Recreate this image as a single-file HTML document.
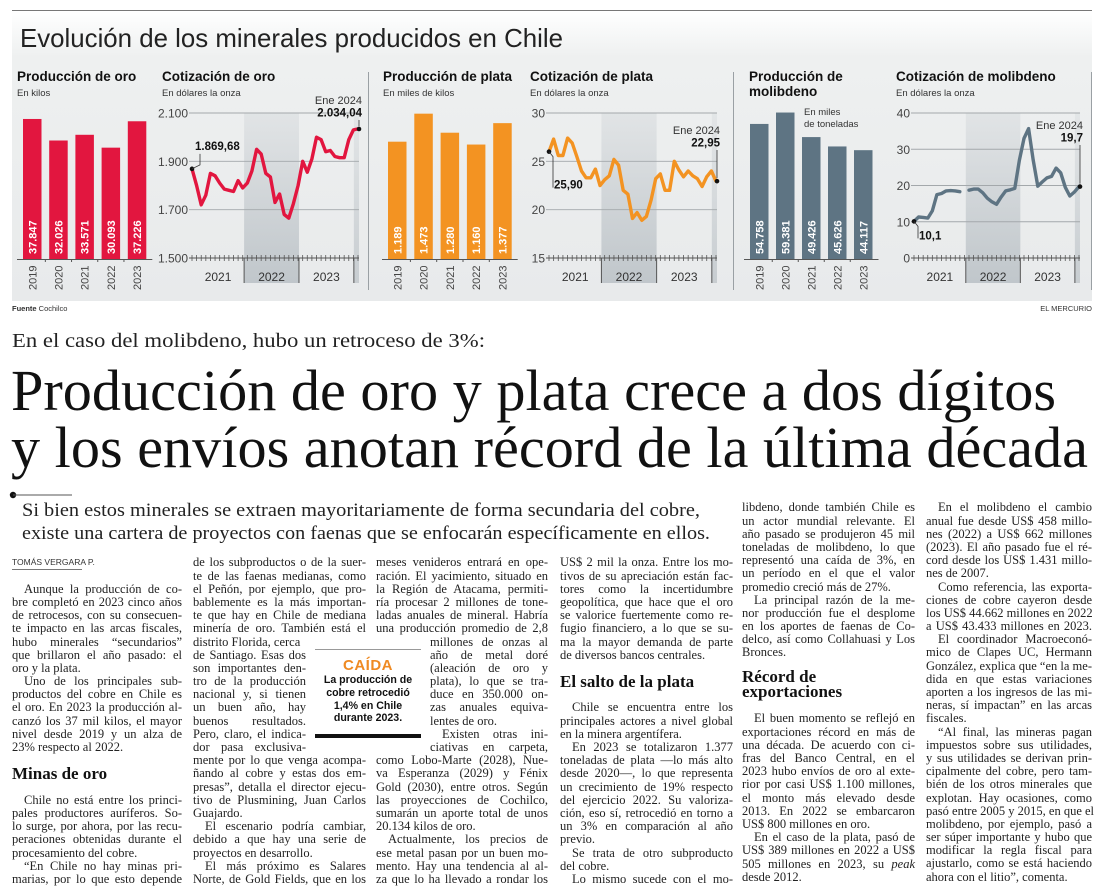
<!DOCTYPE html>
<html><head><meta charset="utf-8">
<style>
html,body{margin:0;padding:0;background:#fff;}
body{width:1100px;height:892px;position:relative;overflow:hidden;font-family:"Liberation Serif",serif;}
svg{position:absolute;left:0;top:0;}
.col{position:absolute;font:12.5px/13.2px "Liberation Serif",serif;color:#222;}
.col div{white-space:nowrap;text-align:justify;text-align-last:justify;height:13.2px;}
.col div.e{text-align-last:left;}
.col div.i{text-indent:12px;}
.col div.h{font:bold 17px/18px "Liberation Serif",serif;color:#111;text-align-last:left;height:39.6px;padding-top:0;box-sizing:border-box;display:flex;align-items:center;}
.col div.h2{font:bold 17px/15px "Liberation Serif",serif;color:#111;text-align-last:left;height:52.8px;padding-top:9px;box-sizing:border-box;white-space:normal;}
.col div.n{width:113px;}
.col div.m{margin-left:54px;}
.col div.b{height:13.2px;}
</style></head>
<body>
<svg id="top" width="1100" height="545" viewBox="0 0 1100 545">
  <defs>
    <linearGradient id="panelg" x1="0" y1="0" x2="0" y2="1">
      <stop offset="0" stop-color="#ffffff"/>
      <stop offset="0.16" stop-color="#eef0f0"/>
      <stop offset="1" stop-color="#e8eaeb"/>
    </linearGradient>
    <linearGradient id="shade" x1="0" y1="0" x2="0" y2="1">
      <stop offset="0" stop-color="#dfe2e4"/>
      <stop offset="1" stop-color="#b9c0c5"/>
    </linearGradient>
  </defs>
  <line x1="12" y1="10.5" x2="1092" y2="10.5" stroke="#777" stroke-width="1"/>
  <rect x="12" y="11" width="1080" height="290" fill="url(#panelg)"/>
  <text x="20" y="47" font-family="Liberation Sans Narrow, Liberation Sans, sans-serif" font-size="26" fill="#222" textLength="543" lengthAdjust="spacingAndGlyphs">Evolución de los minerales producidos en Chile</text>
  <line x1="368.5" y1="72" x2="368.5" y2="290" stroke="#9aa0a4" stroke-width="1"/>
  <line x1="733.5" y1="72" x2="733.5" y2="290" stroke="#9aa0a4" stroke-width="1"/>
  <line x1="1091.5" y1="72" x2="1091.5" y2="290" stroke="#9aa0a4" stroke-width="1"/>

  <g font-family="Liberation Sans, sans-serif" fill="#111">
    <text x="17" y="81" font-size="13.5" font-weight="bold">Producción de oro</text>
    <text x="17" y="96" font-size="9.5" fill="#333">En kilos</text>
    <text x="162" y="81" font-size="13.5" font-weight="bold">Cotización de oro</text>
    <text x="162" y="96" font-size="9.5" fill="#333">En dólares la onza</text>
    <text x="383" y="81" font-size="13.5" font-weight="bold">Producción de plata</text>
    <text x="383" y="96" font-size="9.5" fill="#333">En miles de kilos</text>
    <text x="530" y="81" font-size="13.5" font-weight="bold">Cotización de plata</text>
    <text x="530" y="96" font-size="9.5" fill="#333">En dólares la onza</text>
    <text x="749" y="81" font-size="13.5" font-weight="bold">Producción de</text>
    <text x="749" y="96" font-size="13.5" font-weight="bold">molibdeno</text>
    <text x="804" y="115" font-size="9.5" fill="#333">En miles</text>
    <text x="804" y="127" font-size="9.5" fill="#333">de toneladas</text>
    <text x="896" y="81" font-size="13.5" font-weight="bold">Cotización de molibdeno</text>
    <text x="896" y="96" font-size="9.5" fill="#333">En dólares la onza</text>
    <text x="12" y="311" font-size="7.5" fill="#333"><tspan font-weight="bold">Fuente</tspan> Cochilco</text>
    <text x="1092" y="311" font-size="7.5" fill="#333" text-anchor="end">EL MERCURIO</text>
  </g>
  <g id="charts"></g>

  <text x="12" y="347" font-family="Liberation Serif, serif" font-size="19.5" fill="#222" textLength="473" lengthAdjust="spacingAndGlyphs">En el caso del molibdeno, hubo un retroceso de 3%:</text>
  <text x="11" y="410" font-family="Liberation Serif, serif" font-size="58" fill="#111" textLength="1045" lengthAdjust="spacingAndGlyphs">Producción de oro y plata crece a dos dígitos</text>
  <text x="11" y="467" font-family="Liberation Serif, serif" font-size="58" fill="#111" textLength="1077" lengthAdjust="spacingAndGlyphs">y los envíos anotan récord de la última década</text>
  <circle cx="13" cy="495" r="3.2" fill="#111"/>
  <line x1="13" y1="495" x2="72" y2="495" stroke="#555" stroke-width="1"/>
  <text x="22" y="516" font-family="Liberation Serif, serif" font-size="18.5" fill="#222" textLength="678" lengthAdjust="spacingAndGlyphs">Si bien estos minerales se extraen mayoritariamente de forma secundaria del cobre,</text>
  <text x="22" y="539" font-family="Liberation Serif, serif" font-size="18.5" fill="#222" textLength="688" lengthAdjust="spacingAndGlyphs">existe una cartera de proyectos con faenas que se enfocarán específicamente en ellos.</text>
</svg>

<div style="position:absolute;left:12px;top:557px;font:8.5px 'Liberation Sans',sans-serif;color:#333;">TOMÁS VERGARA P.</div>
<div style="position:absolute;left:12px;top:569px;width:70px;height:1px;background:#777;"></div>

<div class="col" style="left:12px;top:556.4px;width:170px;">
<div class="b"></div><div class="b"></div>
<div class="i">Aunque la producción de co-</div>
<div>bre completó en 2023 cinco años</div>
<div>de retrocesos, con su consecuen-</div>
<div>te impacto en las arcas fiscales,</div>
<div>hubo minerales “secundarios”</div>
<div>que brillaron el año pasado: el</div>
<div class="e">oro y la plata.</div>
<div class="i">Uno de los principales sub-</div>
<div>productos del cobre en Chile es</div>
<div>el oro. En 2023 la producción al-</div>
<div>canzó los 37 mil kilos, el mayor</div>
<div>nivel desde 2019 y un alza de</div>
<div class="e">23% respecto al 2022.</div>
<div class="h">Minas de oro</div>
<div class="i">Chile no está entre los princi-</div>
<div>pales productores auríferos. So-</div>
<div>lo surge, por ahora, por las recu-</div>
<div>peraciones obtenidas durante el</div>
<div class="e">procesamiento del cobre.</div>
<div class="i">“En Chile no hay minas pri-</div>
<div>marias, por lo que esto depende</div>
</div>

<div class="col" style="left:193px;top:556.4px;width:173px;">
<div>de los subproductos o de la suer-</div>
<div>te de las faenas medianas, como</div>
<div>el Peñón, por ejemplo, que pro-</div>
<div>bablemente es la más importan-</div>
<div>te que hay en Chile de mediana</div>
<div>minería de oro. También está el</div>
<div class="n e">distrito Florida, cerca</div>
<div class="n">de Santiago. Esas dos</div>
<div class="n">son importantes den-</div>
<div class="n">tro de la producción</div>
<div class="n">nacional y, si tienen</div>
<div class="n">un buen año, hay</div>
<div class="n">buenos resultados.</div>
<div class="n">Pero, claro, el indica-</div>
<div class="n">dor pasa exclusiva-</div>
<div>mente por lo que venga acompa-</div>
<div>ñando al cobre y estas dos em-</div>
<div>presas”, detalla el director ejecu-</div>
<div>tivo de Plusmining, Juan Carlos</div>
<div class="e">Guajardo.</div>
<div class="i">El escenario podría cambiar,</div>
<div>debido a que hay una serie de</div>
<div class="e">proyectos en desarrollo.</div>
<div class="i">El más próximo es Salares</div>
<div>Norte, de Gold Fields, que en los</div>
</div>

<div style="position:absolute;left:315px;top:641px;width:106px;height:98px;font-family:'Liberation Sans',sans-serif;text-align:center;">
  <div style="height:1px;background:#999;margin-top:8px;"></div>
  <div style="color:#ef8a22;font-weight:bold;font-size:15px;line-height:16px;margin-top:8px;letter-spacing:0.5px;">CAÍDA</div>
  <div style="font-weight:bold;font-size:10.6px;line-height:12.8px;color:#111;">La producción de<br>cobre retrocedió<br>1,4% en Chile<br>durante 2023.</div>
  <div style="position:absolute;left:0;top:93px;width:106px;height:4px;background:#111;"></div>
</div>

<div class="col" style="left:376px;top:556.4px;width:172px;">
<div>meses venideros entrará en ope-</div>
<div>ración. El yacimiento, situado en</div>
<div>la Región de Atacama, permiti-</div>
<div>ría procesar 2 millones de tone-</div>
<div>ladas anuales de mineral. Habría</div>
<div>una producción promedio de 2,8</div>
<div class="m" style="width:118px">millones de onzas al</div>
<div class="m" style="width:118px">año de metal doré</div>
<div class="m" style="width:118px">(aleación de oro y</div>
<div class="m" style="width:118px">plata), lo que se tra-</div>
<div class="m" style="width:118px">duce en 350.000 on-</div>
<div class="m" style="width:118px">zas anuales equiva-</div>
<div class="m e" style="width:118px">lentes de oro.</div>
<div class="m i" style="width:118px">Existen otras ini-</div>
<div class="m" style="width:118px">ciativas en carpeta,</div>
<div>como Lobo-Marte (2028), Nue-</div>
<div>va Esperanza (2029) y Fénix</div>
<div>Gold (2030), entre otros. Según</div>
<div>las proyecciones de Cochilco,</div>
<div>sumarán un aporte total de unos</div>
<div class="e">20.134 kilos de oro.</div>
<div class="i">Actualmente, los precios de</div>
<div>ese metal pasan por un buen mo-</div>
<div>mento. Hay una tendencia al al-</div>
<div>za que lo ha llevado a rondar los</div>
</div>

<div class="col" style="left:560px;top:556.4px;width:173px;">
<div>US$ 2 mil la onza. Entre los mo-</div>
<div>tivos de su apreciación están fac-</div>
<div>tores como la incertidumbre</div>
<div>geopolítica, que hace que el oro</div>
<div>se valorice fuertemente como re-</div>
<div>fugio financiero, a lo que se su-</div>
<div>ma la mayor demanda de parte</div>
<div class="e">de diversos bancos centrales.</div>
<div class="h">El salto de la plata</div>
<div class="i">Chile se encuentra entre los</div>
<div>principales actores a nivel global</div>
<div class="e">en la minera argentífera.</div>
<div class="i">En 2023 se totalizaron 1.377</div>
<div>toneladas de plata —lo más alto</div>
<div>desde 2020—, lo que representa</div>
<div>un crecimiento de 19% respecto</div>
<div>del ejercicio 2022. Su valoriza-</div>
<div>ción, eso sí, retrocedió en torno a</div>
<div>un 3% en comparación al año</div>
<div class="e">previo.</div>
<div class="i">Se trata de otro subproducto</div>
<div class="e">del cobre.</div>
<div class="i">Lo mismo sucede con el mo-</div>
</div>

<div class="col" style="left:742px;top:501.4px;width:173px;">
<div>libdeno, donde también Chile es</div>
<div>un actor mundial relevante. El</div>
<div>año pasado se produjeron 45 mil</div>
<div>toneladas de molibdeno, lo que</div>
<div>representó una caída de 3%, en</div>
<div>un período en el que el valor</div>
<div class="e">promedio creció más de 27%.</div>
<div class="i">La principal razón de la me-</div>
<div>nor producción fue el desplome</div>
<div>en los aportes de faenas de Co-</div>
<div>delco, así como Collahuasi y Los</div>
<div class="e">Bronces.</div>
<div class="h2">Récord de<br>exportaciones</div>
<div class="i">El buen momento se reflejó en</div>
<div>exportaciones récord en más de</div>
<div>una década. De acuerdo con ci-</div>
<div>fras del Banco Central, en el</div>
<div>2023 hubo envíos de oro al exte-</div>
<div>rior por casi US$ 1.100 millones,</div>
<div>el monto más elevado desde</div>
<div>2013. En 2022 se embarcaron</div>
<div class="e">US$ 800 millones en oro.</div>
<div class="i">En el caso de la plata, pasó de</div>
<div>US$ 389 millones en 2022 a US$</div>
<div>505 millones en 2023, su <i>peak</i></div>
<div class="e">desde 2012.</div>
</div>

<div class="col" style="left:926px;top:501.4px;width:166px;">
<div class="i">En el molibdeno el cambio</div>
<div>anual fue desde US$ 458 millo-</div>
<div>nes (2022) a US$ 662 millones</div>
<div>(2023). El año pasado fue el ré-</div>
<div>cord desde los US$ 1.431 millo-</div>
<div class="e">nes de 2007.</div>
<div class="i">Como referencia, las exporta-</div>
<div>ciones de cobre cayeron desde</div>
<div>los US$ 44.662 millones en 2022</div>
<div>a US$ 43.433 millones en 2023.</div>
<div class="i">El coordinador Macroeconó-</div>
<div>mico de Clapes UC, Hermann</div>
<div>González, explica que “en la me-</div>
<div>dida en que estas variaciones</div>
<div>aporten a los ingresos de las mi-</div>
<div>neras, sí impactan” en las arcas</div>
<div class="e">fiscales.</div>
<div class="i">“Al final, las mineras pagan</div>
<div>impuestos sobre sus utilidades,</div>
<div>y sus utilidades se derivan prin-</div>
<div>cipalmente del cobre, pero tam-</div>
<div>bién de los otros minerales que</div>
<div>explotan. Hay ocasiones, como</div>
<div>pasó entre 2005 y 2015, en que el</div>
<div>molibdeno, por ejemplo, pasó a</div>
<div>ser súper importante y hubo que</div>
<div>modificar la regla fiscal para</div>
<div>ajustarlo, como se está haciendo</div>
<div class="e">ahora con el litio”, comenta.</div>
</div>

<script>
// ---- data ----
const years = ["2019","2020","2021","2022","2023"];
const goldProduction = [37847, 32026, 33571, 30093, 37226];
const goldProductionLabels = ["37.847","32.026","33.571","30.093","37.226"];
const silverProduction = [1189, 1473, 1280, 1160, 1377];
const silverProductionLabels = ["1.189","1.473","1.280","1.160","1.377"];
const molyProduction = [54758, 59381, 49426, 45626, 44117];
const molyProductionLabels = ["54.758","59.381","49.426","45.626","44.117"];

const priceYears = ["2021","2022","2023"];
const goldPrice = [1869,1800,1720,1760,1850,1840,1810,1785,1780,1775,1820,1790,1810,1860,1950,1930,1850,1835,1730,1765,1680,1665,1725,1800,1900,1855,1910,2000,1990,1940,1945,1920,1915,1915,1990,2030,2034];
const goldTicks = [1500,1700,1900,2100];
const goldTickLabels = ["1.500","1.700","1.900","2.100"];
const silverPrice = [26.0,27.3,25.6,25.6,27.4,26.9,25.5,24.0,23.3,23.3,24.2,22.5,23.1,23.5,25.2,24.6,22.0,21.6,19.1,19.7,18.9,19.3,21.0,23.2,23.7,22.0,22.0,25.0,24.1,23.4,24.0,23.5,23.2,22.4,23.4,24.0,22.95];
const silverTicks = [15,20,25,30];
const silverTickLabels = ["15","20","25","30"];
const molyPrice = [10.1,11.3,11.2,11.0,13.0,17.5,17.8,18.5,18.6,18.5,18.3,null,18.7,19.0,19.0,18.0,16.5,15.5,14.8,16.8,18.5,18.8,19.2,27.0,33.0,35.7,27.0,19.8,21.0,22.1,22.5,24.8,23.5,19.5,17.1,18.2,19.7];
const molyTicks = [0,10,20,30,40];
const molyTickLabels = ["0","10","20","30","40"];
const goldStartLabel = "1.869,68", goldEndLabel = "2.034,04";
const silverStartLabel = "25,90", silverEndLabel = "22,95";
const molyStartLabel = "10,1", molyEndLabel = "19,7";

const NS = "http://www.w3.org/2000/svg";
const root = document.getElementById("charts");
function mk(tag, attrs, parent) {
  const e = document.createElementNS(NS, tag);
  for (const k in attrs) e.setAttribute(k, attrs[k]);
  (parent || root).appendChild(e);
  return e;
}

function barChart(name, vals, labels, left, step, bw, maxDomain, color) {
  const base = 259, rangeH = 148;
  const y = v => base - v / maxDomain * rangeH;
  const g = mk("g", {});
  
  
  vals.forEach((v, i) => {
    const x = left + i * step;
    const r = mk("rect", {x: x, y: y(v), width: bw, height: base - y(v), fill: color}, g);
    
    
    const cx = x + bw / 2;
    const t = mk("text", {x: 0, y: 0, transform: "translate(" + (cx + 4) + "," + (base - 5) + ") rotate(-90)", "font-family": "Liberation Sans, sans-serif", "font-size": "11", "font-weight": "bold", fill: "#fff"}, g);
    t.textContent = labels[i];
    
    
    const yl = mk("text", {x: 0, y: 0, transform: "translate(" + (cx + 4) + "," + (base + 31) + ") rotate(-90)", "font-family": "Liberation Sans, sans-serif", "font-size": "11", fill: "#444"}, g);
    yl.textContent = years[i];
    
    
    if (i > 0) mk("line", {x1: x - (step - bw) / 2, y1: base, x2: x - (step - bw) / 2, y2: base + 3, stroke: "#555", "stroke-width": 1}, g);
  });
  const ax = mk("line", {x1: left - 6, y1: base + 0.5, x2: left + (vals.length - 1) * step + bw + 6, y2: base + 0.5, stroke: "#555", "stroke-width": 1}, g);
  
  
}

function lineChart(name, vals, ticks, tickLabels, x0, x1, minV, maxV, color, startLabel, endLabel, startPos, endTextY, downLen) {
  const yB = 258, yT = 113;
  const n = vals.length - 1;
  const xs = i => x0 + i * (x1 - x0) / n;
  const ys = v => yB - (v - minV) / (maxV - minV) * (yB - yT);
  const g = mk("g", {});
  
  
  const sh = mk("rect", {x: xs(11.3), y: yT, width: xs(23.2) - xs(11.3), height: 283 - yT, fill: "url(#shade)", opacity: 0.85}, g);
  
  
  const sh2 = mk("rect", {x: xs(35.1), y: yT, width: xs(36) - xs(35.1) + 1, height: 283 - yT, fill: "url(#shade)", opacity: 0.7}, g);
  
  
  ticks.forEach((t, i) => {
    const yy = ys(t);
    if (i > 0) {
      const gl = mk("line", {x1: x0 - 3, y1: yy, x2: x1 + 1, y2: yy, stroke: "#a3a8ab", "stroke-width": 0.9}, g);
      
      
    }
    const tl = mk("text", {x: x0 - 4, y: yy + 4.5, "text-anchor": "end", "font-family": "Liberation Sans, sans-serif", "font-size": "12", fill: "#444"}, g);
    tl.textContent = tickLabels[i];
    
    
  });
  const axis = mk("line", {x1: x0 - 3, y1: yB, x2: x1 + 1, y2: yB, stroke: "#555", "stroke-width": 1}, g);
  
  
  for (let i = 0; i <= n; i++) mk("line", {x1: xs(i), y1: yB - 3, x2: xs(i), y2: yB + 3, stroke: "#555", "stroke-width": 0.8}, g);
  [11.3, 23.2, 35.1].forEach(p => mk("line", {x1: xs(p), y1: yB, x2: xs(p), y2: 283, stroke: "#555", "stroke-width": 1}, g));
  const yearCenters = [(0 + 11.3) / 2, (11.3 + 23.2) / 2, (23.2 + 35.1) / 2];
  priceYears.forEach((yr, i) => {
    const t = mk("text", {x: xs(yearCenters[i]), y: 281, "text-anchor": "middle", "font-family": "Liberation Sans, sans-serif", "font-size": "12", fill: "#333"}, g);
    t.textContent = yr;
    
    
  });
  let d = "", pen = false;
  vals.forEach((v, i) => {
    if (v === null) { pen = false; return; }
    d += (pen ? "L" : "M") + xs(i).toFixed(1) + " " + ys(v).toFixed(1) + " ";
    pen = true;
  });
  const p = mk("path", {d: d, fill: "none", stroke: color, "stroke-width": 3.4, "stroke-linejoin": "round", "stroke-linecap": "round"}, g);
  
  
  const sx = xs(0), sy = ys(vals[0]);
  const sd = mk("circle", {cx: sx, cy: sy, r: 2.3, fill: "#111"}, g);
  
  
  if (startPos === "up") {
    mk("polyline", {points: sx + "," + sy + " " + (sx + 8) + "," + (sy - 4) + " " + (sx + 8) + "," + (sy - 15), fill: "none", stroke: "#333", "stroke-width": 0.8}, g);
  } else {
    mk("polyline", {points: sx + "," + sy + " " + (sx + 4) + "," + (sy + 5) + " " + (sx + 4) + "," + (sy + downLen), fill: "none", stroke: "#333", "stroke-width": 0.8}, g);
  }
  const st = mk("text", {x: startPos === "up" ? sx + 3 : sx + 5, y: startPos === "up" ? sy - 19 : sy + downLen + 1, "font-family": "Liberation Sans, sans-serif", "font-size": "11.5", "font-weight": "bold", fill: "#111"}, g);
  st.textContent = startLabel;
  
  
  const ex = xs(n), ey = ys(vals[n]);
  const e1 = mk("text", {x: ex + 4, y: endTextY, "text-anchor": "end", "font-family": "Liberation Sans, sans-serif", "font-size": "11", fill: "#333"}, g);
  e1.textContent = "Ene 2024";
  
  
  const e2 = mk("text", {x: ex + 4, y: endTextY + 12.5, "text-anchor": "end", "font-family": "Liberation Sans, sans-serif", "font-size": "11.5", "font-weight": "bold", fill: "#111"}, g);
  e2.textContent = endLabel;
  
  
  mk("line", {x1: ex + 1, y1: endTextY + 16, x2: ex + 1, y2: ey - 3, stroke: "#333", "stroke-width": 0.8}, g);
  const ed = mk("circle", {cx: ex + 1, cy: ey, r: 2.3, fill: "#111"}, g);
  
  
}

barChart("gold-production-chart", goldProduction, goldProductionLabels, 23, 26.2, 18.5, 40000, "#e2163f");
lineChart("gold-price-chart", goldPrice, goldTicks, goldTickLabels, 192, 358, 1500, 2100, "#e2163f", goldStartLabel, goldEndLabel, "up", 104, 0);
barChart("silver-production-chart", silverProduction, silverProductionLabels, 388, 26.3, 18.5, 1500, "#f39322");
lineChart("silver-price-chart", silverPrice, silverTicks, silverTickLabels, 549, 716, 15, 30, "#f39322", silverStartLabel, silverEndLabel, "down", 134, 36);
barChart("moly-production-chart", molyProduction, molyProductionLabels, 750, 26, 18.5, 60000, "#5e7483");
lineChart("moly-price-chart", molyPrice, molyTicks, molyTickLabels, 914, 1079, 0, 40, "#5e7483", molyStartLabel, molyEndLabel, "down", 129, 17);
</script>
</body></html>
